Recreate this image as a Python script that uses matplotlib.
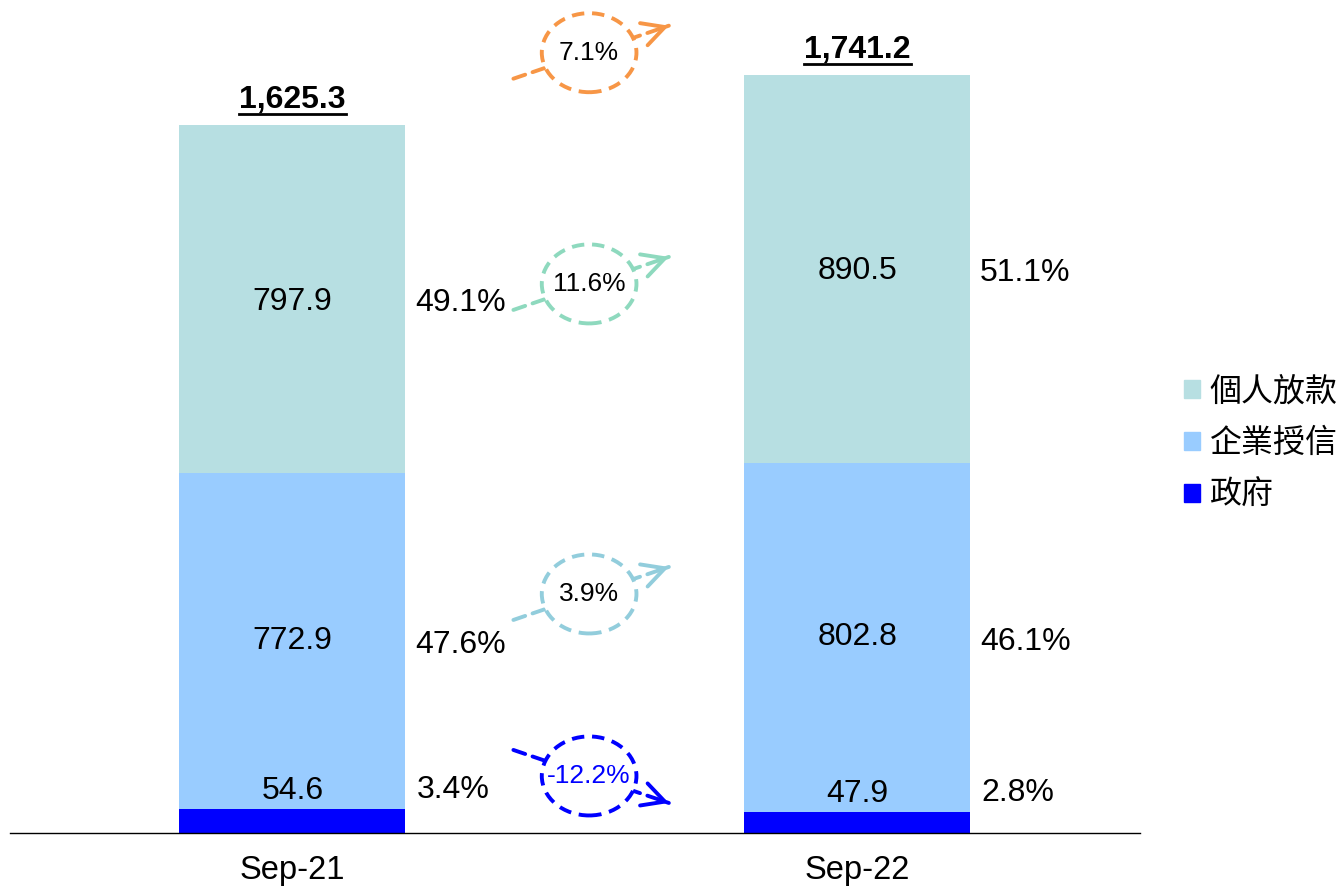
import matplotlib
matplotlib.use('Agg')
from matplotlib import pyplot as plt
from matplotlib.patches import Ellipse, Patch
from matplotlib.lines import Line2D
from matplotlib.transforms import IdentityTransform
import numpy as np

plt.rcParams['font.family'] = ['Liberation Sans', 'Noto Sans CJK TC']

# 数据
dates = ['Sep-21', 'Sep-22']
gov = [54.6, 47.9]
corp = [772.9, 802.8]
personal = [797.9, 890.5]
totals = [1625.3, 1741.2]
gov_pct = ['3.4%', '2.8%']
corp_pct = ['47.6%', '46.1%']
personal_pct = ['49.1%', '51.1%']
names = ['政府', '企業授信', '個人放款']
growth = ['7.1%', '11.6%', '3.9%', '-12.2%']

colors = ['#0000FF', '#99CCFF', '#B7DFE2']
growth_colors = ['#F79646', '#8ED9BE', '#92CDDC', '#0000FF']
growth_text_colors = ['black', 'black', 'black', '#0000FF']
# 位置 (布局)
growth_y = [1792, 1261, 549, 131]
growth_dir = [1, 1, 1, -1]

fig = plt.figure(figsize=(13.38, 8.88), dpi=100)
ax = fig.add_axes([10 / 1338, 55 / 888, 1130 / 1338, 833 / 888])

x = np.arange(len(dates))
w = 0.4
ax.bar(x, gov, w, color=colors[0], zorder=2)
ax.bar(x, corp, w, bottom=gov, color=colors[1], zorder=2)
bottom2 = np.array(gov) + np.array(corp)
ax.bar(x, personal, w, bottom=bottom2, color=colors[2], zorder=2)

ax.set_xlim(-0.5, 1.5)
ax.set_ylim(0, 1913)
for s in ['top', 'right', 'left']:
    ax.spines[s].set_visible(False)
ax.spines['bottom'].set_linewidth(1)
ax.set_yticks([])
ax.set_xticks(x)
ax.set_xticklabels(dates, fontsize=23.5)
ax.tick_params(axis='x', length=0, pad=16)

fs = 23
for i in range(len(dates)):
    # 数值标签
    ax.annotate(f'{personal[i]:.1f}', (x[i], bottom2[i] + personal[i] / 2), xytext=(0, -2),
                textcoords='offset points', ha='center', va='center', fontsize=fs)
    ax.text(x[i], gov[i] + corp[i] / 2, f'{corp[i]:.1f}', ha='center', va='center', fontsize=fs)
    ax.annotate(f'{gov[i]:.1f}', (x[i], gov[i]), xytext=(0, 13), textcoords='offset points',
                ha='center', va='center', fontsize=fs)
    # 占比
    ax.annotate(personal_pct[i], (x[i] + w / 2, bottom2[i] + personal[i] / 2), xytext=(7, -3),
                textcoords='offset points', ha='left', va='center', fontsize=fs)
    ax.annotate(corp_pct[i], (x[i] + w / 2, gov[i] + corp[i] / 2), xytext=(7, -3),
                textcoords='offset points', ha='left', va='center', fontsize=fs)
    ax.annotate(gov_pct[i], (x[i] + w / 2, gov[i]), xytext=(8, 14),
                textcoords='offset points', ha='left', va='center', fontsize=fs)

# 合计
total_texts = []
for i in range(len(dates)):
    t = ax.annotate(f'{totals[i]:,.1f}', (x[i], totals[i]), xytext=(0, 18), textcoords='offset points',
                    ha='center', va='center', fontsize=fs, fontweight='bold')
    total_texts.append(t)

# 增长率圆圈和箭头
px_x = 567.0
px_y = 0.4353
cx = 0.525
for i in range(len(growth)):
    cy = growth_y[i]
    d = growth_dir[i]
    c = growth_colors[i]
    start = (cx - 76 / px_x, cy - d * 26 / px_y)
    end = (cx + 80 / px_x, cy + d * 27 / px_y)
    ax.annotate('', xy=end, xytext=start,
                arrowprops=dict(arrowstyle='-', color=c, lw=2.8, linestyle=(0, (3.2, 2)),
                                shrinkA=0, shrinkB=0), zorder=3)
    near = (end[0] - (end[0] - start[0]) * 0.06, end[1] - (end[1] - start[1]) * 0.06)
    ax.annotate('', xy=end, xytext=near,
                arrowprops=dict(arrowstyle='->,head_length=0.8,head_width=0.42', color=c,
                                lw=2.8, mutation_scale=20, shrinkA=0, shrinkB=0), zorder=3)
    e = Ellipse((cx, cy), 95 / px_x, 79 / px_y, facecolor='white', edgecolor=c,
                lw=2.8, linestyle=(0, (3.2, 2)), zorder=4)
    ax.add_patch(e)
    ax.text(cx, cy, growth[i], ha='center', va='center', fontsize=19, color=growth_text_colors[i], zorder=5)

# 图例
handles = [Patch(color=colors[2]), Patch(color=colors[1]), Patch(color=colors[0])]
fig.legend(handles, [names[2], names[1], names[0]], loc='center left',
           bbox_to_anchor=(1184 / 1338, 1 - 444 / 888), frameon=False, fontsize=fs,
           handlelength=0.5, handleheight=0.5, handletextpad=0.3, labelspacing=0.68,
           borderpad=0, borderaxespad=0)

# 下划线
fig.canvas.draw()
r = fig.canvas.get_renderer()
for t in total_texts:
    bb = t.get_window_extent(r)
    fig.add_artist(Line2D([bb.x0, bb.x1], [bb.y0 + 1, bb.y0 + 1], transform=IdentityTransform(),
                          color='black', lw=2))

fig.savefig('out.png', dpi=100)
